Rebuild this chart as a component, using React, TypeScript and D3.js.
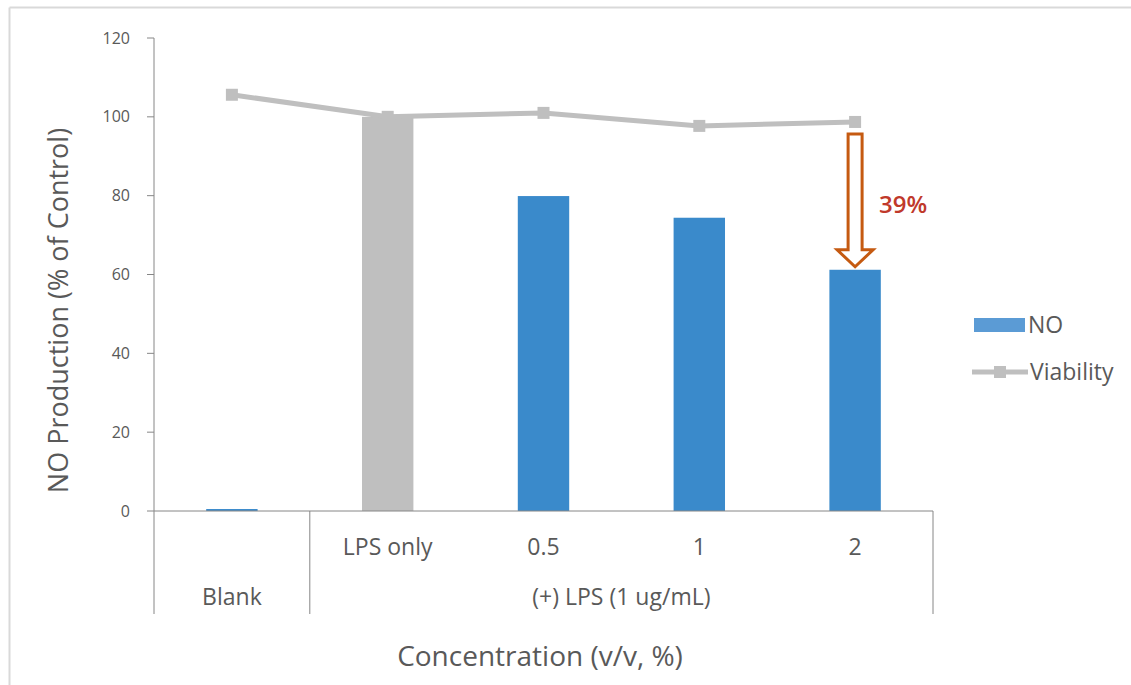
import React from "react";
import * as d3 from "d3";

const categories = ["Blank", "LPS only", "0.5", "1", "2"];
const noProduction = [0.5, 100, 79.9, 74.4, 61.2];
const viability = [105.6, 100, 101, 97.7, 98.7];
const yTicks = [0, 20, 40, 60, 80, 100, 120];
const groupLabels = [
  { label: "Blank", from: "Blank", to: "Blank" },
  { label: "(+) LPS (1 ug/mL)", from: "LPS only", to: "2" },
];
const controlCategory = "LPS only";
const annotationText = "39%";

const W = 1131;
const H = 685;
const FONT = "'Open Sans', 'Noto Sans', sans-serif";
const TXT = "#595959";
const BLUE = "#3a8acb";
const GREY = "#bfbfbf";
const AXIS = "#868686";

export default function App() {
  const left = 154;
  const right = 933;
  const x = d3
    .scaleBand<string>()
    .domain(categories)
    .range([left, right])
    .paddingInner(0.67)
    .paddingOuter(0.335);
  const y = d3.scaleLinear().domain([0, 120]).range([511, 38]);
  const bw = x.bandwidth();
  const step = x.step();
  const cx = (c: string) => (x(c) as number) + bw / 2;

  const lineGen = d3
    .line<number>()
    .x((_, i) => cx(categories[i]))
    .y((d) => y(d));

  const bottom = 614;

  const lastCat = categories[categories.length - 1];
  const ax = cx(lastCat);
  const aTop = y(viability[viability.length - 1]) + 12;
  const aTip = y(noProduction[noProduction.length - 1]) - 3;
  const shaftHalf = 7;
  const headHalf = 18;
  const headLen = 17;
  const arrowPath = [
    [ax - shaftHalf, aTop],
    [ax + shaftHalf, aTop],
    [ax + shaftHalf, aTip - headLen],
    [ax + headHalf, aTip - headLen],
    [ax, aTip],
    [ax - headHalf, aTip - headLen],
    [ax - shaftHalf, aTip - headLen],
  ];

  return (
    <svg
      width={W}
      height={H}
      style={{ position: "absolute", left: 0, top: 0, background: "#fff" }}
      fontFamily={FONT}
    >
      <line x1={9.5} y1={7.5} x2={W} y2={7.5} stroke="#d9d9d9" strokeWidth={2} />
      <line x1={9.5} y1={7.5} x2={9.5} y2={H} stroke="#d9d9d9" strokeWidth={2} />

      <line x1={left} y1={y(120)} x2={left} y2={bottom} stroke={AXIS} strokeWidth={1} />
      {yTicks.map((t) => (
        <g key={t}>
          <line x1={left - 7} x2={left} y1={y(t)} y2={y(t)} stroke={AXIS} />
          <text
            x={left - 24}
            y={y(t)}
            dy="0.35em"
            textAnchor="end"
            fontSize={16}
            fill={TXT}
          >
            {t}
          </text>
        </g>
      ))}

      {categories.map((c, i) => (
        <rect
          key={c}
          x={x(c)}
          y={y(noProduction[i])}
          width={bw}
          height={y(0) - y(noProduction[i])}
          fill={c === controlCategory ? GREY : BLUE}
        />
      ))}

      <line x1={left} y1={y(0)} x2={right} y2={y(0)} stroke={AXIS} />
      {[left + step, right].map((sx, i) => (
        <line key={i} x1={sx} x2={sx} y1={y(0)} y2={bottom} stroke={AXIS} />
      ))}
      {categories.map((c) =>
        c === "Blank" ? null : (
          <text
            key={c}
            x={cx(c)}
            y={547}
            dy="0.35em"
            textAnchor="middle"
            fontSize={23}
            fill={TXT}
          >
            {c}
          </text>
        )
      )}
      {groupLabels.map((g) => {
        const gx =
          ((x(g.from) as number) - (step - bw) / 2 + (x(g.to) as number) + bw + (step - bw) / 2) / 2;
        return (
          <text
            key={g.label}
            x={gx}
            y={597}
            dy="0.35em"
            textAnchor="middle"
            fontSize={23}
            fill={TXT}
          >
            {g.label}
          </text>
        );
      })}

      <path d={lineGen(viability) || ""} fill="none" stroke={GREY} strokeWidth={5} />
      {viability.map((v, i) => (
        <rect key={i} x={cx(categories[i]) - 6} y={y(v) - 6} width={12} height={12} fill={GREY} />
      ))}

      <polygon
        points={arrowPath.map((p) => p.join(",")).join(" ")}
        fill="#fff"
        stroke="#c55a11"
        strokeWidth={3}
        strokeLinejoin="miter"
      />
      <text x={879} y={205} dy="0.35em" fontSize={24} fontWeight={600} fill="#c0392b">
        {annotationText}
      </text>

      <text
        transform={`translate(59,${(y(120) + y(0)) / 2 + 36}) rotate(-90)`}
        textAnchor="middle"
        dy="0.35em"
        fontSize={27}
        fill={TXT}
      >
        NO Production (% of Control)
      </text>
      <text x={540} y={656} dy="0.35em" textAnchor="middle" fontSize={28} fill={TXT}>
        Concentration (v/v, %)
      </text>

      <rect x={974} y={318} width={51} height={14} fill="#5b9bd5" />
      <text x={1028} y={325} dy="0.35em" fontSize={23} fill={TXT}>
        NO
      </text>
      <line x1={972} x2={1028} y1={372} y2={372} stroke={GREY} strokeWidth={5} />
      <rect x={994} y={366} width={12} height={12} fill={GREY} />
      <text x={1030} y={372} dy="0.35em" fontSize={23} fill={TXT}>
        Viability
      </text>
    </svg>
  );
}
